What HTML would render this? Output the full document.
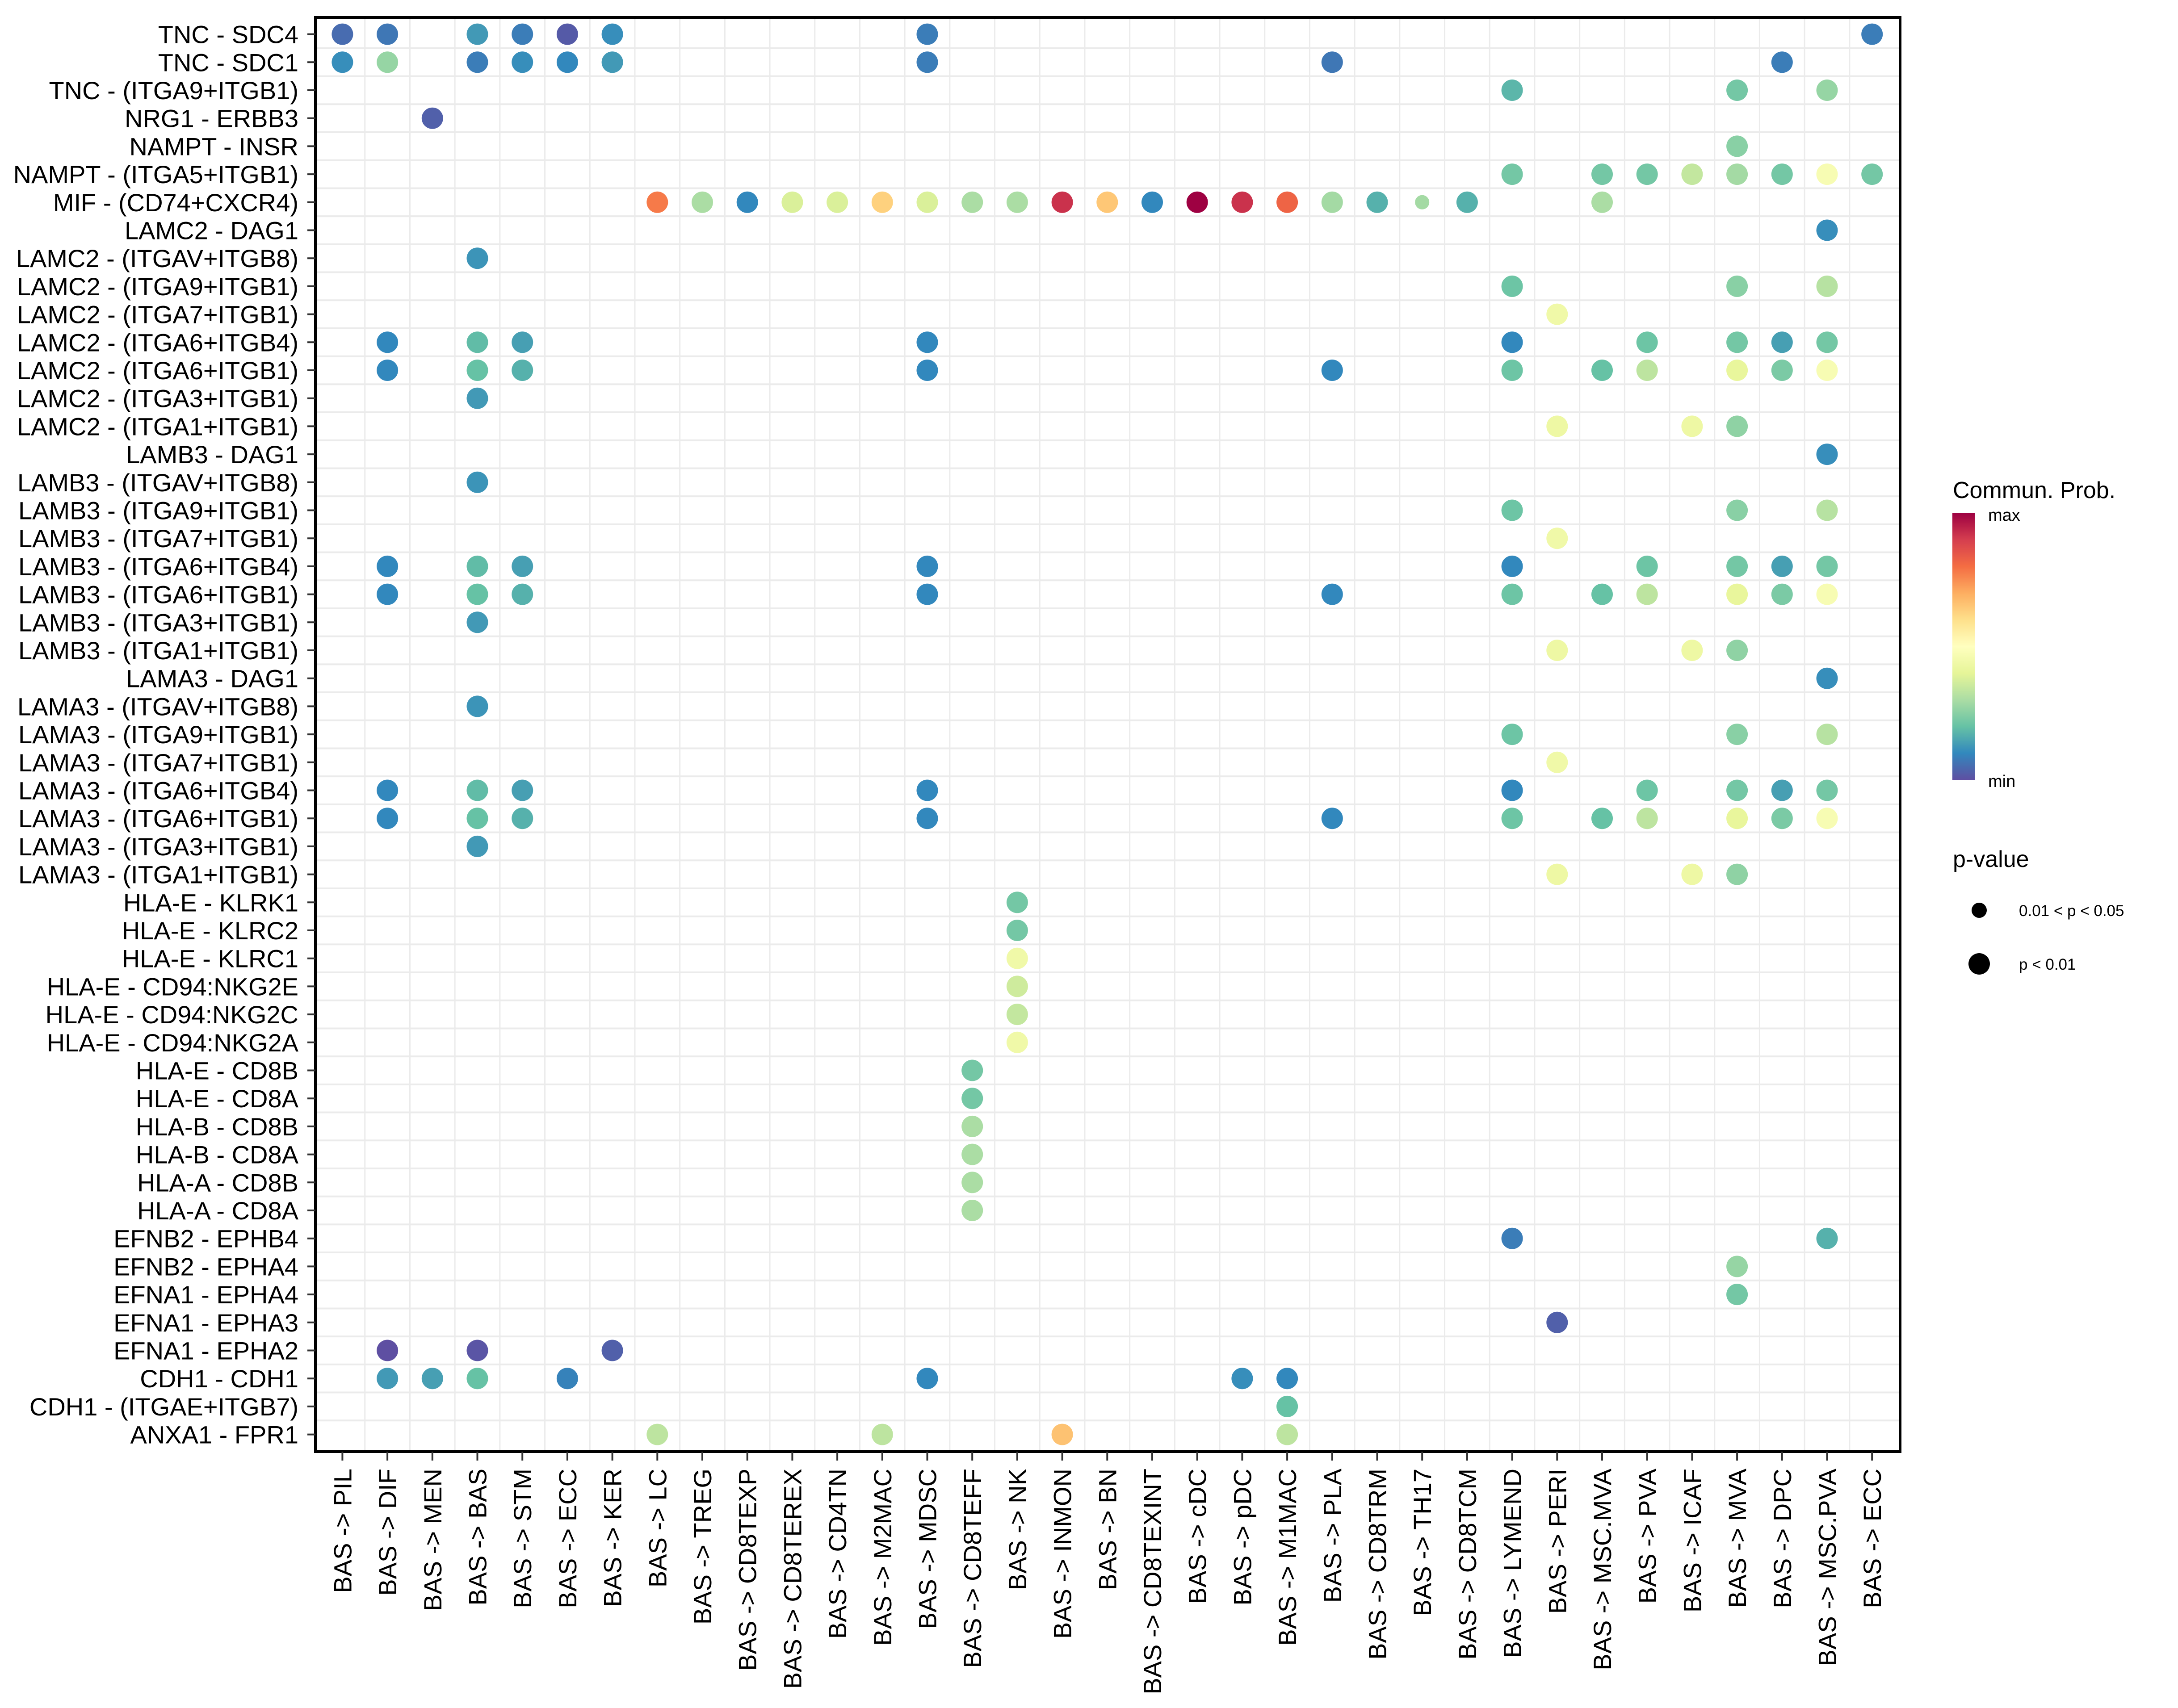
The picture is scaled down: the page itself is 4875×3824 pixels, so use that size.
<!DOCTYPE html>
<html><head><meta charset="utf-8"><style>
html,body{margin:0;padding:0;background:#fff}
svg{display:block;font-family:"Liberation Sans",sans-serif}
</style></head><body>
<svg id="chart" xmlns="http://www.w3.org/2000/svg" width="4875" height="3824" viewBox="0 0 4875 3824">
<defs><linearGradient id="cb" x1="0" y1="1" x2="0" y2="0">
<stop offset="0" stop-color="#5E4FA2"/><stop offset="0.1" stop-color="#3288BD"/><stop offset="0.2" stop-color="#66C2A5"/><stop offset="0.3" stop-color="#ABDDA4"/><stop offset="0.4" stop-color="#E6F598"/><stop offset="0.5" stop-color="#FFFFBF"/><stop offset="0.6" stop-color="#FEE08B"/><stop offset="0.7" stop-color="#FDAE61"/><stop offset="0.8" stop-color="#F46D43"/><stop offset="0.9" stop-color="#D53E4F"/><stop offset="1" stop-color="#9E0142"/></linearGradient></defs>
<g id="grid"></g>
<g id="points"></g>
<rect x="706" y="39" width="3547" height="3211" fill="none" stroke="#000" stroke-width="6"/>
<g id="yaxis"></g>
<g id="xaxis"></g>
<g>
<text x="4371" y="1115" font-size="52">Commun. Prob.</text>
<rect x="4370" y="1149" width="50" height="597" fill="url(#cb)"/>
<text x="4450" y="1166" font-size="38">max</text>
<text x="4450" y="1762" font-size="38">min</text>
</g>
<g>
<text x="4371" y="1941" font-size="52">p-value</text>
<circle cx="4430" cy="2038" r="17" fill="#000"/>
<text x="4519" y="2051" font-size="35">0.01 &lt; p &lt; 0.05</text>
<circle cx="4430" cy="2158" r="24" fill="#000"/>
<text x="4519" y="2171" font-size="35">p &lt; 0.01</text>
</g>
</svg>
<script>
const rowLabels = ["TNC - SDC4","TNC - SDC1","TNC - (ITGA9+ITGB1)","NRG1 - ERBB3","NAMPT - INSR","NAMPT - (ITGA5+ITGB1)","MIF - (CD74+CXCR4)","LAMC2 - DAG1","LAMC2 - (ITGAV+ITGB8)","LAMC2 - (ITGA9+ITGB1)","LAMC2 - (ITGA7+ITGB1)","LAMC2 - (ITGA6+ITGB4)","LAMC2 - (ITGA6+ITGB1)","LAMC2 - (ITGA3+ITGB1)","LAMC2 - (ITGA1+ITGB1)","LAMB3 - DAG1","LAMB3 - (ITGAV+ITGB8)","LAMB3 - (ITGA9+ITGB1)","LAMB3 - (ITGA7+ITGB1)","LAMB3 - (ITGA6+ITGB4)","LAMB3 - (ITGA6+ITGB1)","LAMB3 - (ITGA3+ITGB1)","LAMB3 - (ITGA1+ITGB1)","LAMA3 - DAG1","LAMA3 - (ITGAV+ITGB8)","LAMA3 - (ITGA9+ITGB1)","LAMA3 - (ITGA7+ITGB1)","LAMA3 - (ITGA6+ITGB4)","LAMA3 - (ITGA6+ITGB1)","LAMA3 - (ITGA3+ITGB1)","LAMA3 - (ITGA1+ITGB1)","HLA-E - KLRK1","HLA-E - KLRC2","HLA-E - KLRC1","HLA-E - CD94:NKG2E","HLA-E - CD94:NKG2C","HLA-E - CD94:NKG2A","HLA-E - CD8B","HLA-E - CD8A","HLA-B - CD8B","HLA-B - CD8A","HLA-A - CD8B","HLA-A - CD8A","EFNB2 - EPHB4","EFNB2 - EPHA4","EFNA1 - EPHA4","EFNA1 - EPHA3","EFNA1 - EPHA2","CDH1 - CDH1","CDH1 - (ITGAE+ITGB7)","ANXA1 - FPR1"];
const colLabels = ["BAS -> PIL","BAS -> DIF","BAS -> MEN","BAS -> BAS","BAS -> STM","BAS -> ECC","BAS -> KER","BAS -> LC","BAS -> TREG","BAS -> CD8TEXP","BAS -> CD8TEREX","BAS -> CD4TN","BAS -> M2MAC","BAS -> MDSC","BAS -> CD8TEFF","BAS -> NK","BAS -> INMON","BAS -> BN","BAS -> CD8TEXINT","BAS -> cDC","BAS -> pDC","BAS -> M1MAC","BAS -> PLA","BAS -> CD8TRM","BAS -> TH17","BAS -> CD8TCM","BAS -> LYMEND","BAS -> PERI","BAS -> MSC.MVA","BAS -> PVA","BAS -> ICAF","BAS -> MVA","BAS -> DPC","BAS -> MSC.PVA","BAS -> ECC"];
const pointRow = [
0,0,0,0,0,0,0,0,
1,1,1,1,1,1,1,1,1,
2,2,2, 3, 4,
5,5,5,5,5,5,5,5,
6,6,6,6,6,6,6,6,6,6,6,6,6,6,6,6,6,6,6,6,
7, 8, 9,9,9, 10,
11,11,11,11,11,11,11,11,11,
12,12,12,12,12,12,12,12,12,12,12,
13, 14,14,14,
15, 16, 17,17,17, 18,
19,19,19,19,19,19,19,19,19,
20,20,20,20,20,20,20,20,20,20,20,
21, 22,22,22,
23, 24, 25,25,25, 26,
27,27,27,27,27,27,27,27,27,
28,28,28,28,28,28,28,28,28,28,28,
29, 30,30,30,
31,32,33,34,35,36,
37,38,39,40,41,42,
43,43, 44, 45, 46,
47,47,47,
48,48,48,48,48,48,48,
49,
50,50,50,50];
const pointCol = [
0,1,3,4,5,6,13,34,
0,1,3,4,5,6,13,22,32,
26,31,33, 2, 31,
26,28,29,30,31,32,33,34,
7,8,9,10,11,12,13,14,15,16,17,18,19,20,21,22,23,24,25,28,
33, 3, 26,31,33, 27,
1,3,4,13,26,29,31,32,33,
1,3,4,13,22,26,28,29,31,32,33,
3, 27,30,31,
33, 3, 26,31,33, 27,
1,3,4,13,26,29,31,32,33,
1,3,4,13,22,26,28,29,31,32,33,
3, 27,30,31,
33, 3, 26,31,33, 27,
1,3,4,13,26,29,31,32,33,
1,3,4,13,22,26,28,29,31,32,33,
3, 27,30,31,
15,15,15,15,15,15,
14,14,14,14,14,14,
26,33, 31, 31, 27,
1,3,6,
1,2,3,5,13,20,21,
21,
7,12,16,21];
const pointProb = [
0.05,0.07,0.13,0.08,0.02,0.11,0.08,0.08,
0.11,0.27,0.08,0.11,0.1,0.13,0.08,0.07,0.08,
0.18,0.22,0.27, 0.03, 0.25,
0.22,0.22,0.22,0.34,0.29,0.22,0.47,0.22,
0.78,0.3,0.1,0.38,0.38,0.63,0.38,0.3,0.3,0.92,0.65,0.1,1.0,0.92,0.82,0.29,0.17,0.29,0.17,0.3,
0.11, 0.12, 0.21,0.25,0.32, 0.44,
0.1,0.19,0.14,0.1,0.1,0.21,0.22,0.14,0.22,
0.1,0.2,0.17,0.1,0.1,0.21,0.2,0.33,0.41,0.23,0.47,
0.13, 0.43,0.43,0.26,
0.11, 0.12, 0.21,0.25,0.32, 0.44,
0.1,0.19,0.14,0.1,0.1,0.21,0.22,0.14,0.22,
0.1,0.2,0.17,0.1,0.1,0.21,0.2,0.33,0.41,0.23,0.47,
0.13, 0.43,0.43,0.26,
0.11, 0.12, 0.21,0.25,0.32, 0.44,
0.1,0.19,0.14,0.1,0.1,0.21,0.22,0.14,0.22,
0.1,0.2,0.17,0.1,0.1,0.21,0.2,0.33,0.41,0.23,0.47,
0.13, 0.43,0.43,0.26,
0.22,0.22,0.44,0.36,0.34,0.44,
0.22,0.22,0.3,0.3,0.3,0.3,
0.08,0.17, 0.27, 0.22, 0.03,
0.0,0.01,0.03,
0.13,0.14,0.2,0.09,0.1,0.11,0.1,
0.2,
0.33,0.33,0.66,0.33];
const pointSmall = [6];
const smallCol = [24];

const X0=766.4, DX=100.7, Y0=76.6, DY=62.7;
const xs = i => X0 + i*DX;
const ys = j => Y0 + j*DY;
const spectral = ["#5E4FA2","#3288BD","#66C2A5","#ABDDA4","#E6F598","#FFFFBF","#FEE08B","#FDAE61","#F46D43","#D53E4F","#9E0142"];
function hex(h){return [1,3,5].map(k=>parseInt(h.substr(k,2),16));}
function color(v){v=Math.max(0,Math.min(1,v));const t=v*10,i=Math.min(9,Math.floor(t)),f=t-i;const a=hex(spectral[i]),b=hex(spectral[i+1]);return "rgb("+a.map((c,k)=>Math.round(c+(b[k]-c)*f)).join(",")+")";}
const NS="http://www.w3.org/2000/svg";
function mk(tag,attrs,parent){const e=document.createElementNS(NS,tag);for(const k in attrs)e.setAttribute(k,attrs[k]);parent.appendChild(e);return e;}
const grid=document.getElementById('grid');
for(let j=0;j<rowLabels.length-1;j++){
  const l=mk('line',{x1:706,x2:4253,y1:ys(j)+DY/2,y2:ys(j)+DY/2,stroke:"#EBEBEB","stroke-width":4},grid);
  
  
}
for(let i=0;i<colLabels.length-1;i++){
  const l=mk('line',{x1:xs(i)+DX/2,x2:xs(i)+DX/2,y1:39,y2:3250,stroke:"#EBEBEB","stroke-width":3},grid);
  
  
}
const ya=document.getElementById('yaxis');
rowLabels.forEach((lab,j)=>{
  const t=mk('line',{x1:688,x2:706,y1:ys(j),y2:ys(j),stroke:"#333","stroke-width":4},ya);
  
  
  const tx=mk('text',{x:668,y:ys(j)+20,"text-anchor":"end","font-size":56},ya);
  tx.textContent=lab;
  
  
});
const xa=document.getElementById('xaxis');
colLabels.forEach((lab,i)=>{
  const t=mk('line',{x1:xs(i),x2:xs(i),y1:3250,y2:3270,stroke:"#333","stroke-width":4},xa);
  
  
  const x=xs(i)+20,y=3288;
  const tx=mk('text',{x:x,y:y,"text-anchor":"end","font-size":56,transform:"rotate(-90 "+x+" "+y+")"},xa);
  tx.textContent=lab;
  
  
});
const pts=document.getElementById('points');
pointRow.forEach((r,k)=>{
  const c=pointCol[k];
  let small=false;
  pointSmall.forEach((sr,m)=>{if(sr===r&&smallCol[m]===c)small=true;});
  const e=mk('circle',{cx:xs(c),cy:ys(r),r:small?16:24,fill:color(pointProb[k])},pts);
  
  
});
</script>
</body></html>
